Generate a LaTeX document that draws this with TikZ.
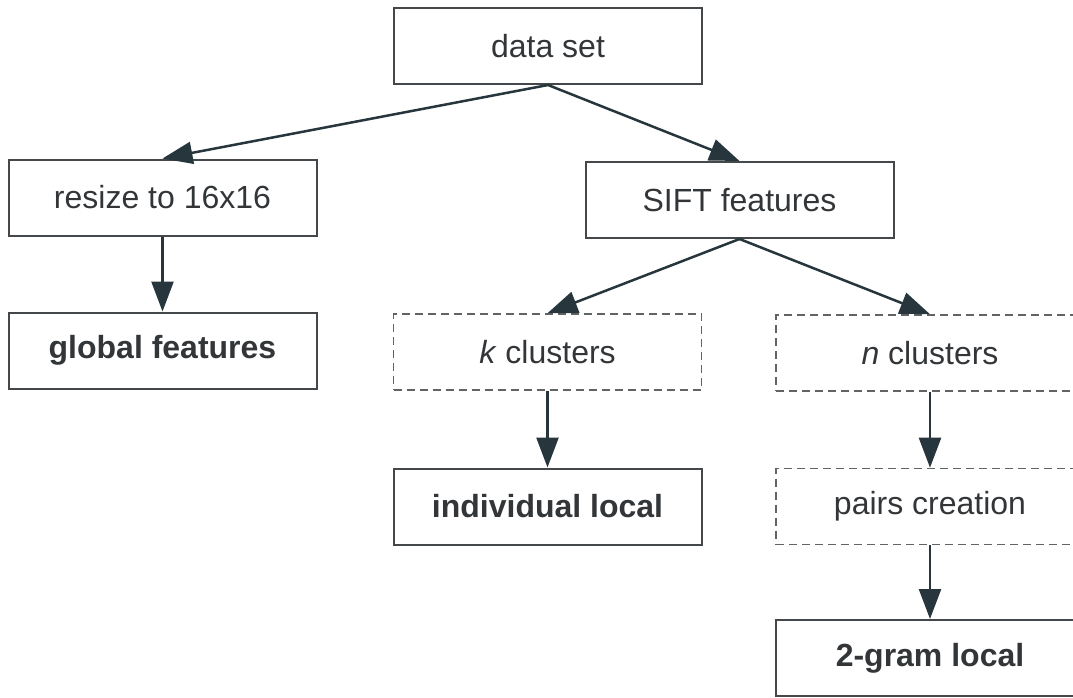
\documentclass[tikz,border=0pt]{standalone}
\usepackage{fontspec}
\setmainfont{Liberation Sans}
\usetikzlibrary{arrows.meta}
\definecolor{txt}{HTML}{333638}
\definecolor{edge}{HTML}{45484A}
\definecolor{arr}{HTML}{26363C}
\begin{document}
\begin{tikzpicture}[x=1pt,y=-1pt,
  box/.style={draw=edge,line width=2pt,minimum width=308pt,minimum height=76pt,inner sep=0pt,
    text=txt,font=\fontsize{32}{38}\selectfont},
  solidbox/.style={box},
  dashbox/.style={box,line width=1.6pt,dash pattern=on 8pt off 5pt,draw=edge!85},
  boldbox/.style={box,font=\fontsize{32}{38}\selectfont\bfseries},
  conn/.style={draw=arr,line width=2.5pt,-{Triangle[length=30pt,width=22pt]}}]
\useasboundingbox (0,0) rectangle (1073,697);
\clip (0,0) rectangle (1073,697);
\node[solidbox] (ds) at (548,46) {data set};
\node[solidbox] (rs) at (162.5,197.5) {resize to 16x16};
\node[solidbox] (sift) at (739.5,200) {SIFT features};
\node[boldbox] (gf) at (162.5,350.5) {global features};
\node[dashbox] (kc) at (547.5,352) {\textit{k} clusters};
\node[dashbox] (nc) at (930,353) {\textit{n} clusters};
\node[boldbox] (il) at (547.5,506.5) {individual local};
\node[dashbox] (pc) at (930,506.5) {pairs creation};
\node[boldbox] (tg) at (930,658) {2-gram local};
\draw[conn] (ds.south) -- (rs.north);
\draw[conn] (ds.south) -- (sift.north);
\draw[conn] (rs.south) -- (gf.north);
\draw[conn] (sift.south) -- (kc.north);
\draw[conn] (sift.south) -- (nc.north);
\draw[conn] (kc.south) -- (il.north);
\draw[conn] (nc.south) -- (pc.north);
\draw[conn] (pc.south) -- (tg.north);
\end{tikzpicture}
\end{document}
